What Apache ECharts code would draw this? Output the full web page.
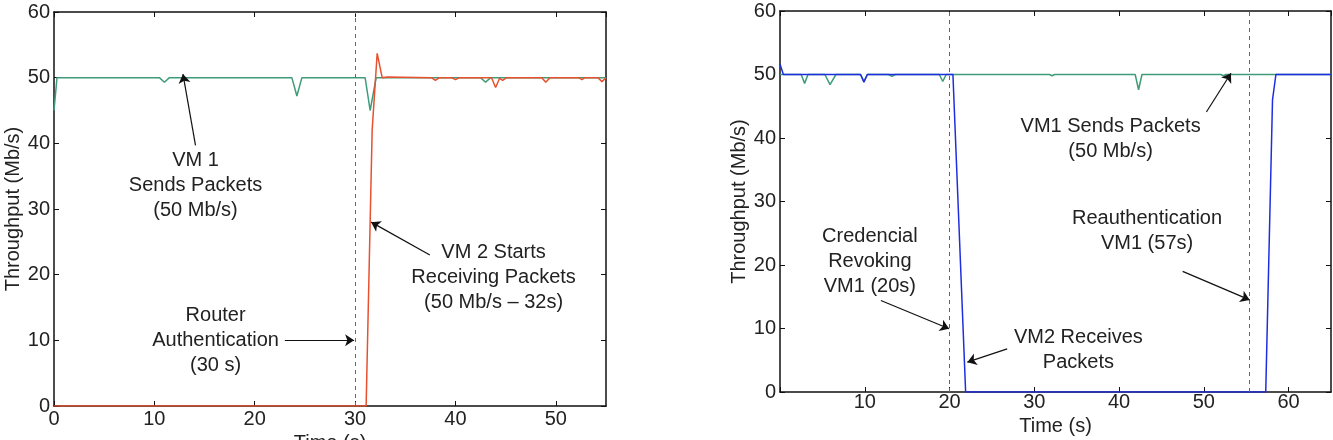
<!DOCTYPE html>
<html lang="en">
<head>
    <meta charset="UTF-8">
    <title>Throughput</title>
    <style>
        * {
            padding: 0;
            margin: 0;
        }

        body {
            background: #fff;
        }

        .EC {
            width: 1333px;
            height: 440px;
        }
    </style>
    <script src="https://cdn.jsdelivr.net/npm/echarts@6.0.0/dist/echarts.min.js"></script>
</head>
<body>
<div class="EC"></div>
<script>
    // left plot: router authentication
    const leftVm1 = [[0, 45], [0.3, 50], [10.5, 50], [11, 49.3], [11.5, 50], [23.7, 50], [24.2, 47.2], [24.7, 50],
        [31, 50], [31.5, 45], [32.1, 50], [42.5, 50], [43, 49.3], [43.5, 50], [55, 50]]
    const leftVm2 = [[0, 0], [31.1, 0], [31.7, 42], [32.2, 53.7], [32.7, 50], [33.2, 50.1], [37.6, 50], [38, 49.6],
        [38.4, 50], [39.6, 50], [40, 49.7], [40.4, 50], [43.6, 50], [44, 48.5], [44.4, 49.9], [44.7, 49.6],
        [45.1, 50], [48.6, 50], [49, 49.3], [49.4, 50], [52.3, 50], [52.6, 49.7], [52.9, 50], [54.2, 50],
        [54.6, 49.4], [55, 50]]
    const leftMarks = [30]
    const leftNotes = [
        {text: 'VM 1\nSends Packets\n(50 Mb/s)', at: [14.1, 33.65]},
        {text: 'VM 2 Starts\nReceiving Packets\n(50 Mb/s \u2013 32s)', at: [43.8, 19.5]},
        {text: 'Router\nAuthentication\n(30 s)', at: [16.1, 10.05]}
    ]
    const leftArrows = [
        [[14.1, 39.7], [12.85, 50.55]],
        [[37.45, 23], [31.6, 28]],
        [[23.0, 10], [29.9, 10]]
    ]

    // right plot: credential revoking
    const rightVm1 = [[0, 51.6], [0.4, 50], [9.5, 50], [9.9, 48.8], [10.3, 50], [20.4, 50], [21.9, 0], [57.3, 0],
        [58.1, 46], [58.5, 50], [65, 50]]
    const rightVm2 = [[0, 50], [2.5, 50], [2.9, 48.6], [3.3, 50], [5.3, 50], [5.9, 48.4], [6.6, 50], [9.5, 50],
        [9.9, 48.9], [10.3, 50], [12.8, 50], [13.2, 49.7], [13.6, 50], [18.8, 50], [19.2, 48.9], [19.6, 50],
        [31.8, 50], [32.1, 49.8], [32.4, 50], [41.9, 50], [42.3, 47.6], [42.7, 50], [52, 50], [52.3, 49.8],
        [52.6, 50], [65, 50]]
    const rightMarks = [20, 55.4]
    const rightNotes = [
        {text: 'VM1 Sends Packets\n(50 Mb/s)', at: [39.0, 39.9]},
        {text: 'Credencial\nRevoking\nVM1 (20s)', at: [10.6, 20.5]},
        {text: 'VM2 Receives\nPackets', at: [35.2, 6.6]},
        {text: 'Reauthentication\nVM1 (57s)', at: [43.3, 25.3]}
    ]
    const rightArrows = [
        [[50.3, 44.1], [53.2, 50.2]],
        [[11.9, 14.4], [19.95, 9.95]],
        [[26.8, 6.8], [22.1, 4.7]],
        [[47.5, 19.0], [55.4, 14.5]]
    ]

    const xLimits = [55, 65]
    const yLimit = 60
    const xName = 'Time (s)'
    const yName = 'Throughput (Mb/s)'

    const FONT = '"Liberation Sans", Arial, Helvetica, sans-serif'
    const green = '#3f9c78'
    const red = '#e8502e'
    const blue = '#1f2de0'

    window.onload = () => {
        let EC = echarts.init(document.querySelector('.EC'), null, {renderer: 'canvas'})

        let frame = {onZero: false, lineStyle: {color: '#111', width: 1.5}}
        let tick = {show: true, inside: true, length: 5, lineStyle: {color: '#111', width: 1}}
        let label = {color: '#222', fontSize: 20, fontFamily: FONT}

        function xAxes(grid, max, labelMargin, nameGap, hideZero) {
            return [{
                type: 'value', gridIndex: grid, min: 0, max: max, interval: 10,
                axisLine: frame, axisTick: tick, splitLine: {show: false},
                axisLabel: Object.assign({
                    margin: labelMargin, showMaxLabel: false,
                    formatter: v => (hideZero && v === 0) ? '' : String(v)
                }, label),
                name: xName, nameLocation: 'middle', nameGap: nameGap,
                nameTextStyle: label
            }, {
                type: 'value', gridIndex: grid, min: 0, max: max, interval: 10, position: 'top',
                axisLine: frame, axisTick: tick, axisLabel: {show: false}, splitLine: {show: false}
            }]
        }

        function yAxes(grid) {
            return [{
                type: 'value', gridIndex: grid, min: 0, max: yLimit, interval: 10,
                axisLine: frame, axisTick: tick, splitLine: {show: false},
                axisLabel: Object.assign({margin: 4}, label),
                name: yName, nameLocation: 'middle', nameGap: 31, nameRotate: 90,
                nameTextStyle: label
            }, {
                type: 'value', gridIndex: grid, min: 0, max: yLimit, interval: 10, position: 'right',
                axisLine: frame, axisTick: tick, axisLabel: {show: false}, splitLine: {show: false}
            }]
        }

        function marks(vlines, arrows) {
            let data = vlines.map(x => [
                {coord: [x, 0], symbol: 'none', lineStyle: {color: '#666', type: [4, 4], width: 1}},
                {coord: [x, yLimit], symbol: 'none'}
            ])
            arrows.forEach(a => data.push([{coord: a[0]}, {coord: a[1]}]))
            return {
                silent: true,
                animation: false,
                symbol: ['none', 'arrow'],
                symbolSize: 9,
                label: {show: false},
                lineStyle: {color: '#111', width: 1.2, type: 'solid'},
                data: data
            }
        }

        function notes(list) {
            return {
                silent: true,
                animation: false,
                symbol: 'circle',
                symbolSize: 0,
                label: {
                    show: true, position: 'inside', formatter: p => p.name,
                    color: '#222', fontSize: 20, lineHeight: 25, fontFamily: FONT, align: 'center'
                },
                data: list.map(n => ({name: n.text, coord: n.at}))
            }
        }

        function line(name, data, color, xi, yi, extra) {
            return Object.assign({
                name: name, type: 'line', data: data, xAxisIndex: xi, yAxisIndex: yi,
                showSymbol: false, symbol: 'none', animation: false,
                lineStyle: {color: color, width: 1.5}, itemStyle: {color: color}
            }, extra || {})
        }

        let option = {
            backgroundColor: '#fff',
            animation: false,
            grid: [
                {left: 54, right: 727, top: 12, bottom: 34, outerBoundsMode: 'none', containLabel: false},
                {left: 780, right: 2, top: 11, bottom: 48, outerBoundsMode: 'none', containLabel: false}
            ],
            xAxis: [].concat(xAxes(0, xLimits[0], 3, 20, false), xAxes(1, xLimits[1], 0, 21, true)),
            yAxis: [].concat(yAxes(0), yAxes(1)),
            series: [
                line('VM 1', leftVm1, green, 0, 0),
                line('VM 2', leftVm2, red, 0, 0, {markLine: marks(leftMarks, leftArrows), markPoint: notes(leftNotes)}),
                line('VM 2', rightVm2, green, 2, 2),
                line('VM 1', rightVm1, blue, 2, 2, {markLine: marks(rightMarks, rightArrows), markPoint: notes(rightNotes)})
            ]
        }
        EC.setOption(option)
    }
</script>
</body>
</html>
